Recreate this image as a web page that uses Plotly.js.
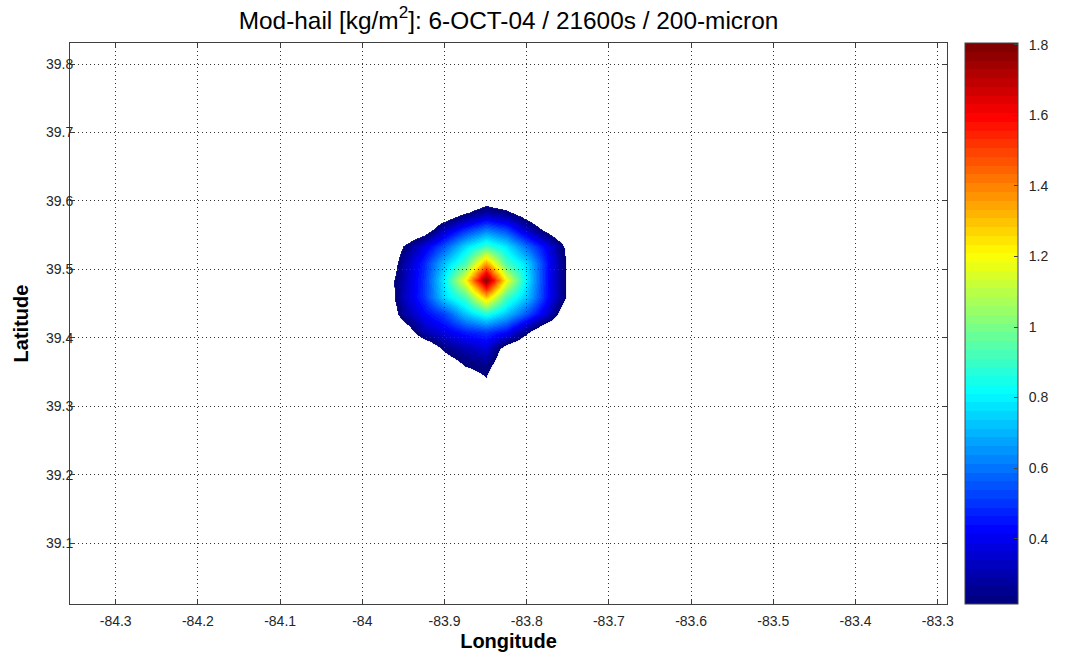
<!DOCTYPE html>
<html>
<head>
<meta charset="utf-8">
<script src="https://cdn.plot.ly/plotly-3.0.1.min.js"></script>
<style>
  html, body { margin: 0; padding: 0; background: #ffffff; }
  #chart { width: 1070px; height: 657px; }
</style>
</head>
<body>
<div id="chart"></div>
<script>
// ---- data ----
const lon = [-84.0, -83.975, -83.95, -83.925, -83.9, -83.875, -83.85, -83.825, -83.8, -83.775, -83.75, -83.725, -83.7];
const lat = [39.284, 39.309, 39.334, 39.359, 39.384, 39.409, 39.434, 39.459, 39.484, 39.509, 39.534, 39.559, 39.584, 39.609, 39.634];
// hail mass [kg/m^2] at each (lat row, lon column); below 0.2 is not drawn
const hail = [
  [0, 0,    0,    0,    0,    0,    0,    0,    0,    0,    0,    0, 0], // 39.284
  [0, 0,    0,    0,    0,    0,    0,    0,    0,    0,    0,    0, 0], // 39.309
  [0, 0,    0,    0,    0,    0.10, 0.18, 0,    0,    0,    0,    0, 0], // 39.334
  [0, 0,    0,    0,    0.10, 0.20, 0.24, 0.08, 0,    0,    0,    0, 0], // 39.359
  [0, 0,    0,    0.05, 0.22, 0.30, 0.36, 0.12, 0.02, 0,    0,    0, 0], // 39.384
  [0, 0,    0.08, 0.30, 0.38, 0.46, 0.50, 0.43, 0.22, 0.02, 0,    0, 0], // 39.409
  [0, 0,    0.27, 0.42, 0.52, 0.72, 0.85, 0.72, 0.54, 0.35, 0.05, 0, 0], // 39.434
  [0, 0.05, 0.32, 0.50, 0.76, 0.92, 1.30, 0.92, 0.72, 0.44, 0.17, 0, 0], // 39.459
  [0, 0.08, 0.30, 0.50, 0.80, 1.20, 1.80, 1.20, 0.78, 0.44, 0.16, 0, 0], // 39.484
  [0, 0,    0.28, 0.48, 0.72, 0.92, 1.35, 0.92, 0.75, 0.45, 0.17, 0, 0], // 39.509
  [0, 0,    0.20, 0.38, 0.55, 0.76, 0.90, 0.78, 0.58, 0.40, 0.15, 0, 0], // 39.534
  [0, 0,    0,    0.10, 0.32, 0.48, 0.60, 0.52, 0.32, 0.15, 0,    0, 0], // 39.559
  [0, 0,    0,    0,    0.05, 0.18, 0.28, 0.23, 0.10, 0,    0,    0, 0], // 39.584
  [0, 0,    0,    0,    0,    0,    0.07, 0,    0,    0,    0,    0, 0], // 39.609
  [0, 0,    0,    0,    0,    0,    0,    0,    0,    0,    0,    0, 0]  // 39.634
];
const drawThreshold = 0.2;
const cbMin = 0.215;
const cbMax = 1.805;

const lonTicks = [-84.3, -84.2, -84.1, -84.0, -83.9, -83.8, -83.7, -83.6, -83.5, -83.4, -83.3];
const lonTickText = ['-84.3', '-84.2', '-84.1', '-84', '-83.9', '-83.8', '-83.7', '-83.6', '-83.5', '-83.4', '-83.3'];
const latTicks = [39.1, 39.2, 39.3, 39.4, 39.5, 39.6, 39.7, 39.8];
const latTickText = ['39.1', '39.2', '39.3', '39.4', '39.5', '39.6', '39.7', '39.8'];
const cbTicks = [0.4, 0.6, 0.8, 1.0, 1.2, 1.4, 1.6, 1.8];
const cbTickText = ['0.4', '0.6', '0.8', '1', '1.2', '1.4', '1.6', '1.8'];

const xRange = [-84.3556, -83.2887];
const yRange = [39.0109, 39.8307];

// ---- MATLAB-like jet colormap (64 steps) ----
function clamp01(v) { return Math.max(0, Math.min(1, v)); }
function jet(f) {
  const r = clamp01(Math.min(4 * f - 1.5, -4 * f + 4.5));
  const g = clamp01(Math.min(4 * f - 0.5, -4 * f + 3.5));
  const b = clamp01(Math.min(4 * f + 0.5, -4 * f + 2.5));
  return 'rgb(' + Math.round(r * 255) + ',' + Math.round(g * 255) + ',' + Math.round(b * 255) + ')';
}
const NC = 64;
const jetColors = [];
for (let i = 0; i < NC; i++) jetColors.push(jet(i / (NC - 1)));

// discrete colorscale for the colorbar (cbMin..cbMax)
const cbScale = [];
for (let i = 0; i < NC; i++) {
  cbScale.push([i / NC, jetColors[i]]);
  cbScale.push([(i + 1) / NC, jetColors[i]]);
}

// surface colorscale over 0..cbMax, transparent below the draw threshold
const zMin = 0, zMax = cbMax;
const surfScale = [[0, 'rgba(255,255,255,0)'], [(drawThreshold - 1e-4) / zMax, 'rgba(255,255,255,0)']];
const stepV = (cbMax - cbMin) / NC;
for (let i = 0; i < NC; i++) {
  const lo = (i === 0) ? drawThreshold : cbMin + i * stepV;
  const hi = cbMin + (i + 1) * stepV;
  surfScale.push([lo / zMax, jetColors[i]]);
  surfScale.push([Math.min(1, hi / zMax), jetColors[i]]);
}

const fontFam = '"Liberation Sans", Arial, Helvetica, sans-serif';
const enSpace = '\u2002';

const traces = [
  {
    type: 'heatmap',
    x: lon, y: lat, z: hail,
    zsmooth: 'best',
    zmin: zMin, zmax: zMax,
    colorscale: surfScale,
    showscale: false,
    hoverinfo: 'skip',
    xaxis: 'x', yaxis: 'y'
  },
  {
    type: 'scatter',
    mode: 'markers',
    x: [lon[6]], y: [lat[8]],
    xaxis: 'x', yaxis: 'y',
    hoverinfo: 'skip',
    showlegend: false,
    marker: {
      size: 1, opacity: 0,
      color: [cbMin],
      cmin: cbMin, cmax: cbMax,
      colorscale: cbScale,
      showscale: true,
      colorbar: {
        thickness: 53, thicknessmode: 'pixels',
        len: 1, lenmode: 'fraction',
        x: 1.0205, xanchor: 'left', xpad: 0,
        y: 0.5, yanchor: 'middle', ypad: 0,
        outlinewidth: 1, outlinecolor: '#444',
        ticks: 'inside', ticklen: 4, tickcolor: '#444', tickwidth: 1,
        tickmode: 'array', tickvals: cbTicks,
        ticktext: cbTickText.map(function (t) { return enSpace + t; }),
        tickfont: { family: fontFam, size: 14, color: '#262626' }
      }
    }
  },
  {
    // carrier for the grid overlay subplot (draws nothing)
    type: 'scatter',
    mode: 'markers',
    x: [lon[6]], y: [lat[8]],
    xaxis: 'x2', yaxis: 'y2',
    hoverinfo: 'skip',
    showlegend: false,
    marker: { size: 1, opacity: 0 }
  }
];

const axisCommon = {
  showgrid: false, zeroline: false,
  showline: true, linecolor: '#404040', linewidth: 1,
  mirror: 'ticks', ticks: 'inside', ticklen: 5, tickwidth: 1, tickcolor: '#404040',
  tickfont: { family: fontFam, size: 14, color: '#262626' }
};

const gridAxis = {
  domain: [0, 1],
  tickmode: 'array',
  showgrid: true, gridcolor: '#333333', gridwidth: 1, griddash: '1px,3px',
  showticklabels: false, ticks: '', showline: false, zeroline: false
};

const layout = {
  width: 1070, height: 657,
  margin: { l: 70, r: 123, t: 43, b: 53, pad: 0 },
  paper_bgcolor: '#ffffff',
  plot_bgcolor: 'rgba(0,0,0,0)',
  font: { family: fontFam, color: '#000000' },
  showlegend: false,
  title: {
    text: 'Mod-hail [kg/m<sup>2</sup>]: 6-OCT-04 / 21600s / 200-micron',
    font: { family: fontFam, size: 24.4, color: '#000000' },
    x: 0.5, xref: 'paper', xanchor: 'center',
    y: 1 - 20 / 657, yref: 'container', yanchor: 'middle'
  },
  xaxis: Object.assign({}, axisCommon, {
    range: xRange, domain: [0, 1], anchor: 'y',
    tickmode: 'array', tickvals: lonTicks, ticktext: lonTickText,
    ticklabelstandoff: 4,
    title: { text: 'Longitude', font: { family: fontFam, size: 20, weight: 'bold', color: '#000' }, standoff: 6 }
  }),
  yaxis: Object.assign({}, axisCommon, {
    range: yRange, domain: [0, 1], anchor: 'x',
    tickmode: 'array', tickvals: latTicks, ticktext: latTickText,
    ticklabelstandoff: -7,
    title: { text: 'Latitude', font: { family: fontFam, size: 20, weight: 'bold', color: '#000' }, standoff: 11 }
  }),
  xaxis2: Object.assign({}, gridAxis, { range: xRange, anchor: 'y2', tickvals: lonTicks }),
  yaxis2: Object.assign({}, gridAxis, { range: yRange, anchor: 'x2', tickvals: latTicks })
};

Plotly.newPlot('chart', traces, layout, { staticPlot: true, displayModeBar: false });
</script>
</body>
</html>
